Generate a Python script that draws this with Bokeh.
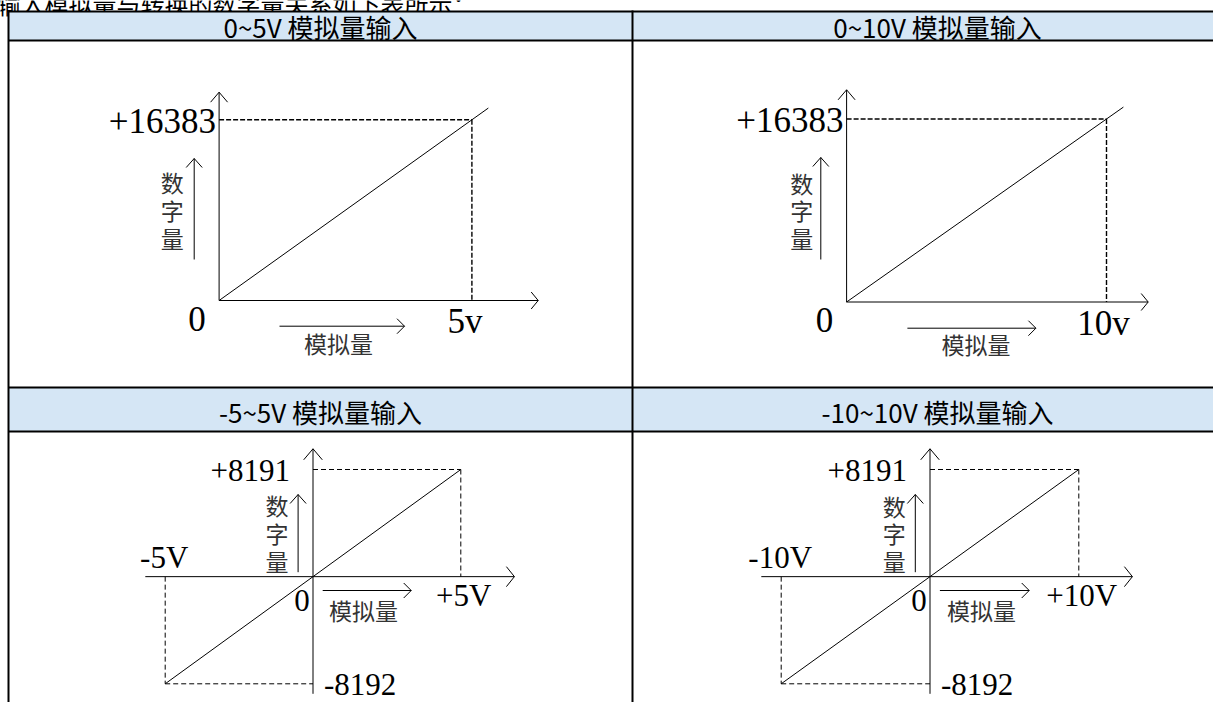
from bokeh.plotting import figure
from bokeh.models import Range1d
from bokeh.core.properties import value
from bokeh.embed import file_html
from bokeh.resources import INLINE

# ---------------- data ----------------
intro_text = "输入模拟量与转换的数字量关系如下表所示："
panel_titles = ["0~5V 模拟量输入", "0~10V 模拟量输入", "-5~5V 模拟量输入", "-10~10V 模拟量输入"]
volt_min = [0, 0, -5, -10]
volt_max = [5, 10, 5, 10]
code_min = [0, 0, -8192, -8192]
code_max = [16383, 16383, 8191, 8191]
volt_max_labels = ["5v", "10v", "+5V", "+10V"]
volt_min_labels = ["", "", "-5V", "-10V"]
code_max_labels = ["+16383", "+16383", "+8191", "+8191"]
code_min_labels = ["", "", "-8192", "-8192"]
origin_label = "0"
digital_name = "数字量"
analog_name = "模拟量"

# ---------------- layout (picture pixels) ----------------
W, H = 1213, 702
XL, XR, YB, YT = 0, W, H, 0

x_min_px = [218.6, 846.1, 164.7, 780.7]
x_max_px = [471.4, 1106.0, 460.3, 1078.3]
y_min_px = [300.0, 301.5, 683.3, 683.3]
y_max_px = [119.3, 118.5, 469.0, 469.0]

x_axis_start_px = [None, None, 144.8, 760.8]
x_axis_end_px = [537.7, 1147.7, 513.9, 1131.9]
y_axis_top_px = [91.7, 89.3, 448.3, 448.3]
y_axis_bottom_px = [None, None, 693.3, 693.3]

ylab_x = [171.8, 801.3, 276.6, 893.8]
ylab_y = [209.5, 210.0, 532.8, 533.0]
yarr_x = [193.7, 820.3, 297.6, 914.8]
yarr_bot = [259.0, 259.0, 571.7, 571.7]
yarr_top = [158.0, 157.0, 494.0, 494.0]
xlab_x = [338.0, 975.6, 363.0, 981.0]
xlab_y = [342.0, 343.0, 609.3, 609.3]
xarr_y = [325.7, 327.7, 590.0, 590.0]
xarr_l = [279.0, 906.9, 322.2, 939.4]
xarr_r = [404.0, 1035.4, 410.7, 1028.7]

title_x = [320, 937, 320, 937]
title_y = [26.0, 26.0, 410.5, 410.5]

HEAD_BG = "#D5E6F5"
SERIF = value("Liberation Serif")
CJK = value("Noto Sans CJK SC")

p = figure(width=W, height=H, x_range=Range1d(XL, XR), y_range=Range1d(YB, YT),
           output_backend="svg", toolbar_location=None, min_border=0)
p.axis.visible = False
p.grid.visible = False
p.outline_line_color = None
p.background_fill_color = "white"
p.border_fill_color = "white"

# cut-off intro sentence above the table (only its lower part is visible, as in the reference)
p.text(x=[-4], y=[2.5], text=[intro_text], text_font=CJK, text_font_size="24px",
       text_align="left", text_baseline="alphabetic", text_color="black")

# table: header fills and borders
p.quad(left=[8, 8], right=[1240, 1240], top=[11, 387], bottom=[40, 431],
       fill_color=HEAD_BG, line_color=None)
p.segment(x0=[8, 8, 8, 8, 8, 632], y0=[11, 40, 387, 431, 10, 10],
          x1=[1240, 1240, 1240, 1240, 8, 632], y1=[11, 40, 387, 431, 720, 720],
          line_color="black", line_width=2)
p.text(x=title_x, y=title_y, text=panel_titles, text_font=CJK, text_font_size="26px",
       text_align="center", text_baseline="middle", text_color="black")


def lin_range(v0, p0, v1, p1, lo, hi):
    k = (v1 - v0) / (p1 - p0)
    return Range1d(v0 + (lo - p0) * k, v0 + (hi - p0) * k)


def open_head(tx, ty, direction, back, half):
    if direction == "up":
        return [tx - half, tx, tx + half], [ty + back, ty, ty + back]
    return [tx - back, tx, tx - back], [ty - half, ty, ty + half]


xr, yr = {}, {}
for i in range(4):
    xr[f"x{i}"] = lin_range(volt_min[i], x_min_px[i], volt_max[i], x_max_px[i], XL, XR)
    yr[f"y{i}"] = lin_range(code_min[i], y_min_px[i], code_max[i], y_max_px[i], YB, YT)
p.extra_x_ranges = xr
p.extra_y_ranges = yr

for i in range(4):
    xn, yn = f"x{i}", f"y{i}"
    vmin, vmax, cmin, cmax = volt_min[i], volt_max[i], code_min[i], code_max[i]
    top = i < 2
    ox = x_min_px[i] + (0 - vmin) / (vmax - vmin) * (x_max_px[i] - x_min_px[i])
    oy = y_min_px[i] + (0 - cmin) / (cmax - cmin) * (y_max_px[i] - y_min_px[i])

    # axes
    xs0 = ox if x_axis_start_px[i] is None else x_axis_start_px[i]
    yb0 = oy if y_axis_bottom_px[i] is None else y_axis_bottom_px[i]
    p.segment(x0=[xs0, ox], y0=[oy, yb0], x1=[x_axis_end_px[i], ox], y1=[oy, y_axis_top_px[i]],
              line_color="black", line_width=1)
    hb, hh = (10, 8.5) if top else (11, 9.3)
    ax_, ay_ = open_head(ox, y_axis_top_px[i], "up", hb, hh)
    bx_, by_ = open_head(x_axis_end_px[i], oy, "right", 7 if top else 8, 8.5 if top else 10)
    p.multi_line(xs=[ax_, bx_], ys=[ay_, by_], line_color="black", line_width=1)

    # transfer line
    ext = 1.065 if top else 1.0
    p.line(x=[vmin, vmin + ext * (vmax - vmin)], y=[cmin, cmin + ext * (cmax - cmin)],
           x_range_name=xn, y_range_name=yn, line_color="black", line_width=1)

    # guide lines
    gx = [[0, vmax], [vmax, vmax]]
    gy = [[cmax, cmax], [cmax, 0]]
    if vmin < 0:
        gx += [[vmin, vmin], [vmin, 0]]
        gy += [[0, cmin], [cmin, cmin]]
    p.multi_line(xs=gx, ys=gy, x_range_name=xn, y_range_name=yn, line_color="black",
                 line_width=1.4 if top else 1, line_dash="5 2" if top else "5 3")

    # value labels
    fs = "35px" if top else "31px"
    p.text(x=[0], y=[cmax], text=[code_max_labels[i]], x_range_name=xn, y_range_name=yn,
           text_font=SERIF, text_font_size=fs, text_align="right", text_baseline="middle",
           x_offset=-3 if top else -23, y_offset=1)
    p.text(x=[0], y=[0], text=[origin_label], x_range_name=xn, y_range_name=yn,
           text_font=SERIF, text_font_size=fs, text_align="center", text_baseline="middle",
           x_offset=-22 if top else -11, y_offset=18 if top else 24)
    p.text(x=[vmax], y=[0], text=[volt_max_labels[i]], x_range_name=xn, y_range_name=yn,
           text_font=SERIF, text_font_size=fs, text_align="center", text_baseline="middle",
           x_offset=(-7 if i == 0 else -3) if top else 3, y_offset=21 if top else 19)
    if vmin < 0:
        p.text(x=[vmin], y=[0], text=[volt_min_labels[i]], x_range_name=xn, y_range_name=yn,
               text_font=SERIF, text_font_size=fs, text_align="center", text_baseline="middle",
               x_offset=-1, y_offset=-19)
        p.text(x=[0], y=[cmin], text=[code_min_labels[i]], x_range_name=xn, y_range_name=yn,
               text_font=SERIF, text_font_size=fs, text_align="left", text_baseline="middle",
               x_offset=11, y_offset=1)

    # axis names with arrows
    p.text(x=[ylab_x[i]], y=[ylab_y[i]], text=["\n".join(digital_name)], text_font=CJK,
           text_font_size="23px", text_align="center", text_baseline="middle",
           text_line_height=0.82, text_color="#333333")
    p.text(x=[xlab_x[i]], y=[xlab_y[i]], text=[analog_name], text_font=CJK,
           text_font_size="23px", text_align="center", text_baseline="middle",
           text_color="#333333")
    hx, hy = open_head(yarr_x[i], yarr_top[i], "up", 9, 8)
    kx, ky = open_head(xarr_r[i], xarr_y[i], "right", 7.5, 7.5)
    p.multi_line(xs=[[yarr_x[i], yarr_x[i]], hx, [xarr_l[i], xarr_r[i]], kx],
                 ys=[[yarr_bot[i], yarr_top[i]], hy, [xarr_y[i], xarr_y[i]], ky],
                 line_color="black", line_width=1)

open("out.html", "w").write(file_html(p, INLINE))
